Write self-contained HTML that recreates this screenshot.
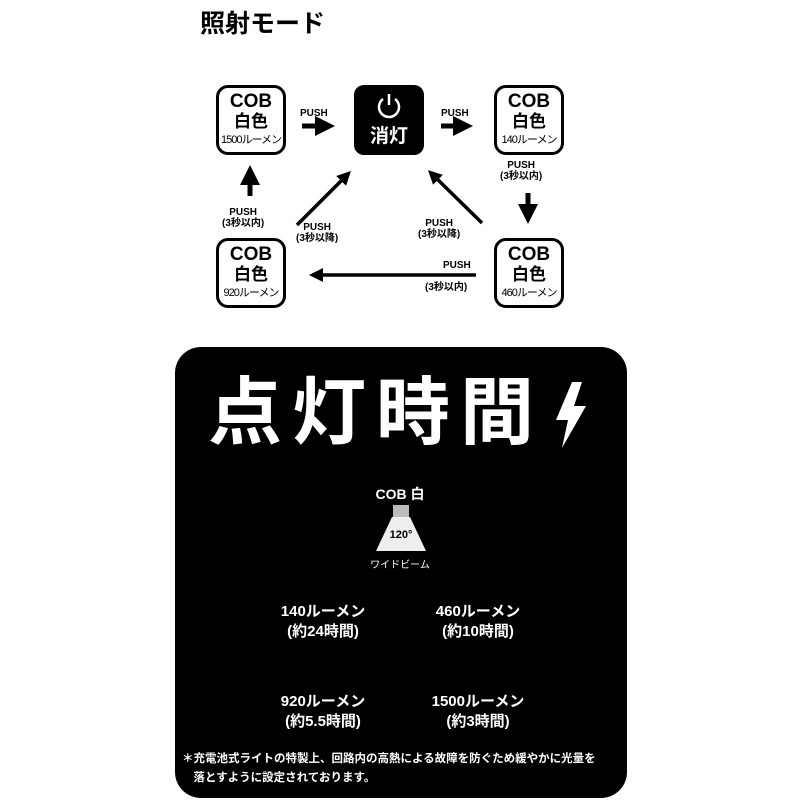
<!DOCTYPE html>
<html><head><meta charset="utf-8"><style>
body{margin:0;width:800px;height:800px;background:#fff;position:relative;overflow:hidden;font-family:"Liberation Sans","Noto Sans CJK JP",sans-serif;}
.a{position:absolute;}
.box{position:absolute;width:64px;height:64px;border:3px solid #000;border-radius:12px;text-align:center;color:#000;}
.box .c{font-weight:bold;font-size:19px;line-height:20px;margin-top:4px;}
.box .w{font-weight:bold;font-size:17px;line-height:20px;}
.box .l{font-size:11px;line-height:16px;letter-spacing:-1px;}
.p{position:absolute;font-weight:bold;font-size:10px;line-height:11px;text-align:center;color:#000;}
.t{position:absolute;color:#fff;font-weight:bold;font-size:15px;line-height:20px;text-align:center;width:160px;}
</style></head><body>
<div class="a" style="left:200px;top:4px;font-size:25px;font-weight:bold;">照射モード</div>

<div class="box" style="left:216px;top:85px;"><div class="c">COB</div><div class="w">白色</div><div class="l">1500ルーメン</div></div>
<div class="box" style="left:494px;top:85px;"><div class="c">COB</div><div class="w">白色</div><div class="l">140ルーメン</div></div>
<div class="box" style="left:216px;top:238px;"><div class="c">COB</div><div class="w">白色</div><div class="l">920ルーメン</div></div>
<div class="box" style="left:494px;top:238px;"><div class="c">COB</div><div class="w">白色</div><div class="l">460ルーメン</div></div>
<div class="a" style="left:354px;top:85px;width:70px;height:70px;background:#000;border-radius:10px;color:#fff;text-align:center;">
<svg width="30" height="30" viewBox="0 0 30 30" style="margin-top:6px"><path d="M9 8 A10 10 0 1 0 21 8" fill="none" stroke="#fff" stroke-width="2.5"/><line x1="15" y1="3" x2="15" y2="14" stroke="#fff" stroke-width="2.5"/></svg>
<div style="font-size:19px;font-weight:bold;line-height:22px;">消灯</div></div>

<svg class="a" style="left:0;top:0" width="800" height="340">
<defs><marker id="m" markerWidth="4" markerHeight="4" refX="2" refY="2" orient="auto"><path d="M0,0 L4,2 L0,4 z" fill="#000"/></marker></defs>
<g stroke="#000" stroke-width="5" fill="none" marker-end="url(#m)">
<line x1="302" y1="126" x2="325" y2="126"/>
<line x1="441" y1="126" x2="463" y2="126"/>
<line x1="528" y1="193" x2="528" y2="214"/>
<line x1="250" y1="196" x2="250" y2="175"/>
</g>
<g stroke="#000" stroke-width="3.5" fill="none" marker-end="url(#m)">
<line x1="297" y1="225" x2="346" y2="176"/>
<line x1="482" y1="223" x2="433" y2="175"/>
<line x1="476" y1="275" x2="316" y2="275"/>
</g></svg>
<div class="p" style="left:300px;top:108px;">PUSH</div>
<div class="p" style="left:441px;top:108px;">PUSH</div>
<div class="p" style="left:500px;top:160px;">PUSH<br>(3秒以内)</div>
<div class="p" style="left:222px;top:207px;">PUSH<br>(3秒以内)</div>
<div class="p" style="left:296px;top:222px;">PUSH<br>(3秒以降)</div>
<div class="p" style="left:418px;top:218px;">PUSH<br>(3秒以降)</div>
<div class="p" style="left:443px;top:260px;">PUSH</div>
<div class="p" style="left:425px;top:282px;">(3秒以内)</div>

<div class="a" style="left:175px;top:347px;width:452px;height:451px;background:#000;border-radius:26px;"></div>
<div class="a" style="left:208px;top:370px;color:#fff;font-size:74px;font-weight:bold;letter-spacing:10px;line-height:86px;white-space:nowrap;">点灯時間</div>
<svg class="a" style="left:550px;top:380px" width="42" height="70"><path d="M22 2 L6 40 L18 40 L12 68 L36 26 L24 26 L32 2 z" fill="#fff"/></svg>
<div class="a" style="left:360px;top:484px;width:80px;text-align:center;color:#fff;font-weight:bold;font-size:14px;">COB 白</div>
<svg class="a" style="left:368px;top:505px" width="66" height="50"><rect x="25" y="0" width="16" height="12" fill="#bbb"/><path d="M24 12 L42 12 L58 46 L8 46 z" fill="#eee"/><text x="33" y="33" font-size="11" font-weight="bold" text-anchor="middle" fill="#000" font-family="Liberation Sans">120°</text></svg>
<div class="a" style="left:350px;top:556px;width:100px;text-align:center;color:#fff;font-size:10px;">ワイドビーム</div>

<div class="t" style="left:243px;top:602px;">140ルーメン<br>(約24時間)</div>
<div class="t" style="left:398px;top:602px;">460ルーメン<br>(約10時間)</div>
<div class="t" style="left:243px;top:692px;">920ルーメン<br>(約5.5時間)</div>
<div class="t" style="left:398px;top:692px;">1500ルーメン<br>(約3時間)</div>
<div class="a" style="left:182px;top:750px;width:440px;color:#fff;font-size:11.5px;line-height:19px;font-weight:bold;">＊充電池式ライトの特製上、回路内の高熱による故障を防ぐため緩やかに光量を<br>　落とすように設定されております。</div>
</body></html>
